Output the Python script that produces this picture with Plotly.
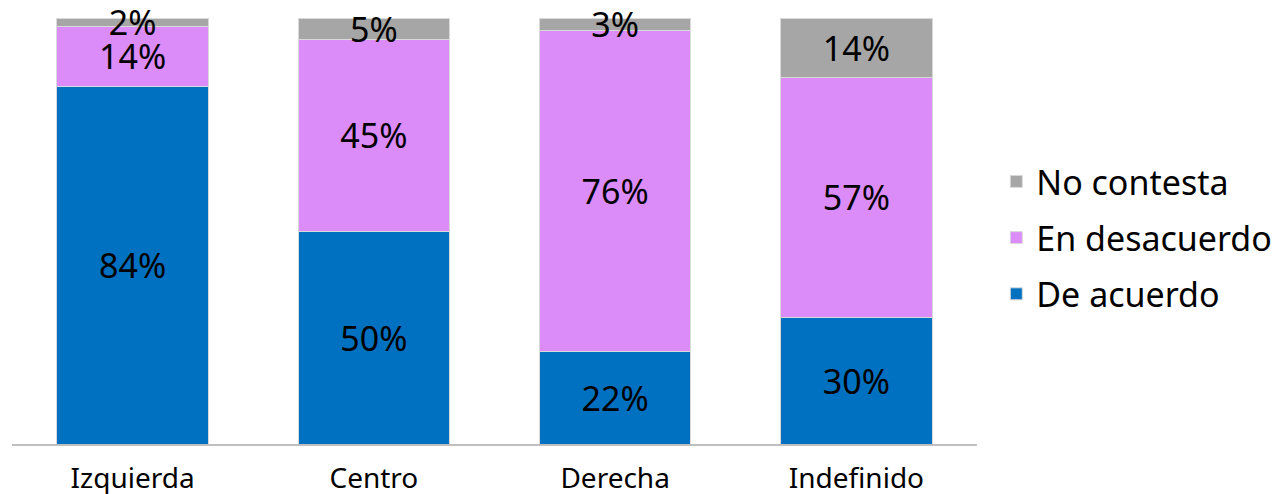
import plotly.graph_objects as go

# categories and series (percent of respondents)
categories = ["Izquierda", "Centro", "Derecha", "Indefinido"]
de_acuerdo = [84, 50, 22, 30]
en_desacuerdo = [14, 45, 76, 57]
no_contesta = [2, 5, 3, 14]

series = [
    ("De acuerdo", de_acuerdo, "#0070C0", 3),
    ("En desacuerdo", en_desacuerdo, "#DC8CF8", 2),
    ("No contesta", no_contesta, "#A6A6A6", 1),
]

FONT = "Noto Sans"

fig = go.Figure()
for name, values, color, rank in series:
    fig.add_trace(go.Bar(
        x=categories, y=values, name=name,
        legendgroup=name, legendrank=rank,
        marker=dict(color=color, line=dict(color="#D9D9D9", width=1)),
        text=[f"{v}%" for v in values],
        textposition="inside", insidetextanchor="middle",
        textangle=0, constraintext="none", cliponaxis=False,
        textfont=dict(family=FONT, size=34, color="black"),
        hoverinfo="x+y+name",
    ))

# page body adds an 8px offset, margins compensate for it
fig.update_layout(
    barmode="stack", barnorm="percent",
    bargap=0.373,
    width=1279, height=494,
    margin=dict(l=4, r=310, t=10, b=58),
    plot_bgcolor="white", paper_bgcolor="white",
    font=dict(family=FONT, color="black"),
    legend=dict(
        x=1.02, y=0.484, xanchor="left", yanchor="middle",
        traceorder="grouped", tracegroupgap=9,
        font=dict(family=FONT, size=34, color="black"),
    ),
    showlegend=True,
)
fig.update_xaxes(
    automargin=False,
    showline=True, linecolor="#BFBFBF", linewidth=2,
    ticks="outside", ticklen=8, tickcolor="white",
    tickfont=dict(family=FONT, size=28, color="black"),
)
fig.update_yaxes(visible=False, range=[0, 100], automargin=False)

fig.write_html("out.html")
